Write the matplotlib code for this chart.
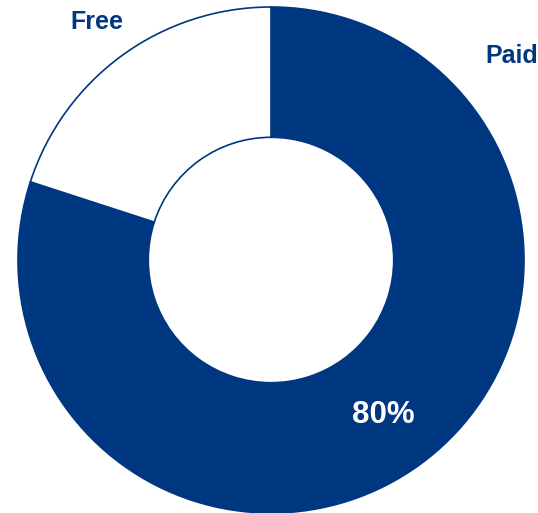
import matplotlib.pyplot as plt

# share of users
labels = ['Paid', 'Free']
shares = [80, 20]

blue = '#003781'
W, H = 538, 513

fig = plt.figure(figsize=(W / 100, H / 100), dpi=100)
ax = fig.add_axes([0, 0, 1, 1])
ax.set_xlim(0, W)
ax.set_ylim(0, H)
ax.set_aspect('equal')
ax.axis('off')

# donut, drawn in pixel units
cx, cy, r = 271, H - 260, 253
wedges, _ = ax.pie(shares, startangle=90, counterclock=False,
                   colors=[blue, 'white'], center=(cx, cy), radius=r,
                   wedgeprops=dict(width=r * 0.515, edgecolor=blue, linewidth=1.2))
ax.set_xlim(0, W)
ax.set_ylim(0, H)

font = dict(family='Liberation Sans', weight='bold')
ax.text(70, H - 22, labels[1], color=blue, fontsize=18, ha='left', va='center', **font)
ax.text(485, H - 56, labels[0], color=blue, fontsize=18, ha='left', va='center', **font)
ax.text(383, H - 415, f'{shares[0]}%', color='white', fontsize=22.5,
        ha='center', va='center', **font)

fig.savefig('out.png', dpi=100)
